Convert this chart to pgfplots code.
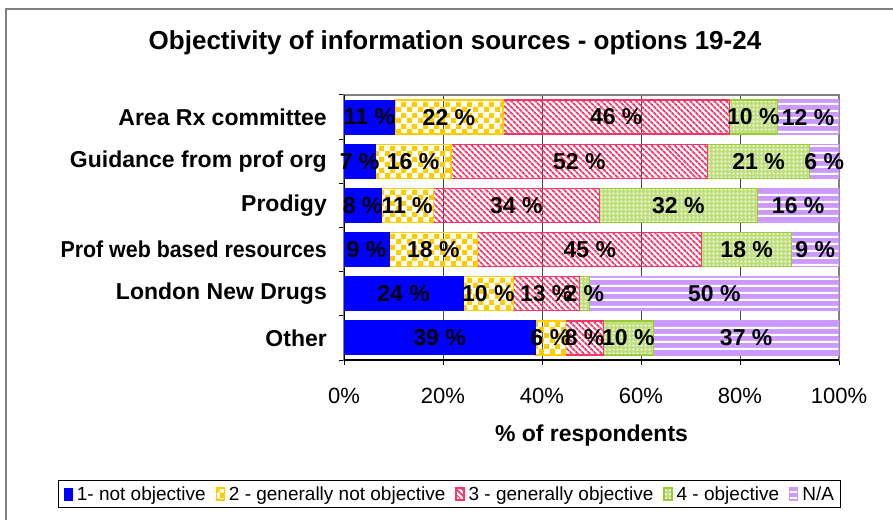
\documentclass[border=0pt]{standalone}
\usepackage{pgfplots}
\pgfplotsset{compat=1.18}
\usepackage{pgfplotstable}
\usepackage{fontspec}
\setmainfont{Liberation Sans}
\usetikzlibrary{patterns,patterns.meta}

\definecolor{cBlue}{RGB}{0,0,255}
\definecolor{cYel}{RGB}{255,204,0}
\definecolor{cPink}{RGB}{255,51,102}
\definecolor{cGreen}{RGB}{153,204,51}
\definecolor{cPurp}{RGB}{204,153,255}
\definecolor{cGrid}{RGB}{70,70,70}
\definecolor{cFrame}{RGB}{128,128,128}

\pgfdeclarepatternformonly{bigchecker}{\pgfpointorigin}{\pgfqpoint{11pt}{11pt}}{\pgfqpoint{11pt}{11pt}}{%
  \pgfpathrectangle{\pgfpointorigin}{\pgfqpoint{5.5pt}{5.5pt}}%
  \pgfpathrectangle{\pgfqpoint{5.5pt}{5.5pt}}{\pgfqpoint{5.5pt}{5.5pt}}%
  \pgfusepath{fill}}
\pgfdeclarepatternformonly{wsquares}{\pgfpointorigin}{\pgfqpoint{4pt}{4pt}}{\pgfqpoint{4pt}{4pt}}{%
  \pgfpathrectangle{\pgfqpoint{0.9pt}{0.9pt}}{\pgfqpoint{2.2pt}{2.2pt}}%
  \pgfusepath{fill}}
\pgfdeclarepatternformonly{wstripes}{\pgfqpoint{0pt}{0pt}}{\pgfqpoint{60pt}{6.5pt}}{\pgfqpoint{60pt}{6.5pt}}{%
  \pgfpathrectangle{\pgfqpoint{-1pt}{0pt}}{\pgfqpoint{62pt}{2.4pt}}%
  \pgfusepath{fill}}

% rows: 0 = Other (bottom) ... 5 = Area Rx committee (top)
\pgfplotstableread{
y  a    b    c    d    e
0  38.6 6.2  7.6  10.1 37.5
1  24.1 10.1 13.3 2.1  50.4
2  9.1  17.9 45.3 18.1 9.6
3  7.5  10.5 33.6 31.9 16.5
4  6.3  15.3 51.9 20.5 6.0
5  10.3 21.8 45.8 9.6  12.5
}\datatable

\begin{document}
\begin{tikzpicture}
\useasboundingbox (0,0) rectangle (893pt,519pt);
\draw[cFrame, line width=2pt] (6pt,-5pt) -- (6pt,510pt) -- (900pt,510pt);
\node[font=\fontsize{26}{30}\selectfont\bfseries, anchor=base] at (455pt,469pt) {Objectivity of information sources - options 19-24};

\begin{axis}[
  at={(344pt,159pt)}, anchor=south west,
  width=495pt, height=265pt, scale only axis,
  xbar stacked, bar width=34pt,
  xmin=0, xmax=100, ymin=-0.5, ymax=5.5,
  xtick={0,20,40,60,80,100},
  xticklabels={0\%,20\%,40\%,60\%,80\%,100\%},
  ytick={-0.5,0.5,1.5,2.5,3.5,4.5,5.5},
  y tick label as interval,
  yticklabels={Other,London New Drugs,{\scalebox{0.93}[1]{Prof web based resources}},Prodigy,Guidance from prof org,Area Rx committee},
  tick align=outside, tick pos=left, major tick length=5pt,
  tick style={black, line width=1pt},
  xmajorgrids, major grid style={cGrid, line width=1pt},
  axis line style={cFrame, line width=1.2pt},
  xticklabel style={font=\fontsize{22}{26}\selectfont, inner sep=0pt, anchor=base, yshift=-38pt},
  yticklabel style={font=\fontsize{23}{27}\selectfont\bfseries, inner sep=0pt, anchor=east, xshift=-12pt},
  xlabel={\% of respondents},
  xlabel style={font=\fontsize{23}{27}\selectfont\bfseries, at={(axis description cs:0.5,-0.309)}, anchor=base, inner sep=0pt},
  legend image code/.code={\draw[#1] (0pt,-6pt) rectangle (8pt,6pt);},
  legend columns=5,
  legend cell align=left,
  legend style={at={(0.214,-0.506)}, anchor=center, draw=black, line width=1pt,
    font=\fontsize{19}{22}\selectfont, inner xsep=5pt, inner ysep=4pt,
    /tikz/every odd column/.append style={column sep=2pt},
    /tikz/every even column/.append style={column sep=8pt}},
]
\addplot[fill=cBlue, draw=cBlue, line width=1pt] table[x=a, y=y] {\datatable};
\addplot[pattern=bigchecker, pattern color=cYel, draw=cYel, line width=1.2pt] table[x=b, y=y] {\datatable};
\addplot[pattern={Lines[angle=-45,distance=4pt,line width=1.9pt]}, pattern color=cPink, draw=cPink, line width=1.2pt] table[x=c, y=y] {\datatable};
\addplot[fill=cGreen!65!white, postaction={pattern=wsquares, pattern color=white}, draw=cGreen, line width=1.2pt] table[x=d, y=y] {\datatable};
\addplot[fill=cPurp, postaction={pattern=wstripes, pattern color=white}, draw=cPurp, line width=1.2pt] table[x=e, y=y] {\datatable};
\legend{1- not objective, 2 - generally not objective, 3 - generally objective, 4 - objective, N/A}
\draw[black, line width=1.2pt] (rel axis cs:0,1) -- (rel axis cs:0,0) -- (rel axis cs:1,0);
\end{axis}

\begin{axis}[
  at={(344pt,159pt)}, anchor=south west,
  width=495pt, height=265pt, scale only axis,
  xmin=0, xmax=100, ymin=-0.5, ymax=5.5, hide axis,
  every node near coord/.style={anchor=center, inner sep=0pt, font=\fontsize{23}{27}\selectfont\bfseries, text=black},
]
\addplot[draw=none, mark=none, nodes near coords, point meta=explicit symbolic] coordinates {
 (5.15,5) [11 \%] (21.2,5) [22 \%] (55.0,5) [46 \%] (82.7,5) [10 \%] (93.75,5) [12 \%]
 (3.15,4) [7 \%] (13.95,4) [16 \%] (47.55,4) [52 \%] (83.75,4) [21 \%] (97.0,4) [6 \%]
 (3.75,3) [8 \%] (12.75,3) [11 \%] (34.8,3) [34 \%] (67.55,3) [32 \%] (91.75,3) [16 \%]
 (4.55,2) [9 \%] (18.05,2) [18 \%] (49.65,2) [45 \%] (81.35,2) [18 \%] (95.2,2) [9 \%]
 (12.05,1) [24 \%] (29.15,1) [10 \%] (40.85,1) [13 \%] (48.55,1) [2 \%] (74.8,1) [50 \%]
 (19.3,0) [39 \%] (41.7,0) [6 \%] (48.6,0) [8 \%] (57.45,0) [10 \%] (81.25,0) [37 \%]
};
\end{axis}
\end{tikzpicture}
\end{document}
